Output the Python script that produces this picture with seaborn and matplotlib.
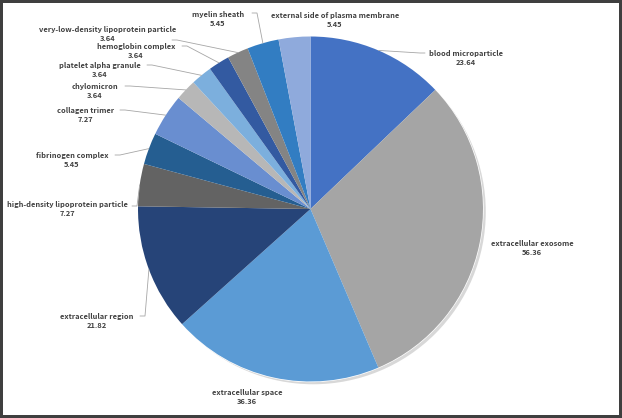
import numpy as np
import seaborn as sns
import matplotlib.pyplot as plt
import matplotlib.patheffects as pe
from matplotlib.patches import Circle

# GO cellular component terms, clockwise from 12 o'clock
terms = ['blood microparticle', 'extracellular exosome', 'extracellular space',
         'extracellular region', 'high-density lipoprotein particle',
         'fibrinogen complex', 'collagen trimer', 'chylomicron',
         'platelet alpha granule', 'hemoglobin complex',
         'very-low-density lipoprotein particle', 'myelin sheath',
         'external side of plasma membrane']
values = [23.64, 56.36, 36.36, 21.82, 7.27, 5.45, 7.27, 3.64, 3.64, 3.64, 3.64, 5.45, 5.45]

colors = ['#4472C4', '#A5A5A5', '#5B9BD5', '#264478', '#636363', '#255E91',
          '#698ED0', '#B7B7B7', '#7CAFDD', '#335AA1', '#848484', '#327DC2', '#8FAADC']

# label layout in pixels: text centre, and where the leader line meets the text (None = no line)
label_pos = [(466, 58), (532, 248), (247, 397), (97, 321), (67, 209), (72, 160),
             (86, 115), (95, 91), (100, 70), (136, 51), (108, 34), (218, 19), (335, 20)]
line_end = [(425, 53), None, None, (140, 316), (132, 206), (115, 155), (120, 110),
            (125, 86), (147, 65), (182, 46), (172, 40), (252, 13), None]

W, H = 622, 418
CX, CY, R = 310.5, 209, 172.5


def px(p):
    return ((p[0] - CX) / R, (CY - p[1]) / R)


sns.set_theme(style='white')
plt.rcParams['font.family'] = ['Noto Sans CJK KR', 'DejaVu Sans']

fig = plt.figure(figsize=(W / 100, H / 100), dpi=100, edgecolor='#3f3f3f', linewidth=4)
ax = fig.add_axes([0, 0, 1, 1])

# soft shadow under the pie
ax.add_patch(Circle((0, 0), 1, facecolor='white', zorder=0,
                    path_effects=[pe.SimplePatchShadow(offset=(2, -2), shadow_rgbFace='#aaaaaa', alpha=0.45),
                                  pe.Normal()]))

wedges, _ = ax.pie(values, colors=colors, startangle=90, counterclock=False,
                   radius=1, wedgeprops=dict(linewidth=0))

# pie() resets the limits, so map data units to pixels afterwards
ax.set_xlim(-CX / R, (W - CX) / R)
ax.set_ylim(-(H - CY) / R, CY / R)
ax.set_aspect('equal')
ax.axis('off')

for w, name, val, tp, le in zip(wedges, terms, values, label_pos, line_end):
    tx, ty = px(tp)
    ax.text(tx, ty, f'{name}\n{val:.2f}', ha='center', va='center', fontsize=5.4,
            fontweight='bold', color='#404040', linespacing=1.35)
    if le is not None:
        mid = np.deg2rad((w.theta1 + w.theta2) / 2)
        wx, wy = np.cos(mid), np.sin(mid)
        ex, ey = px(le)
        side = 1 if ex < wx else -1
        elbow = (ex + side * 5 / R, ey)
        ax.plot([wx, elbow[0], ex], [wy, elbow[1], ey], color='#a6a6a6', lw=0.6, zorder=1)

plt.savefig('out.png', dpi=100)
